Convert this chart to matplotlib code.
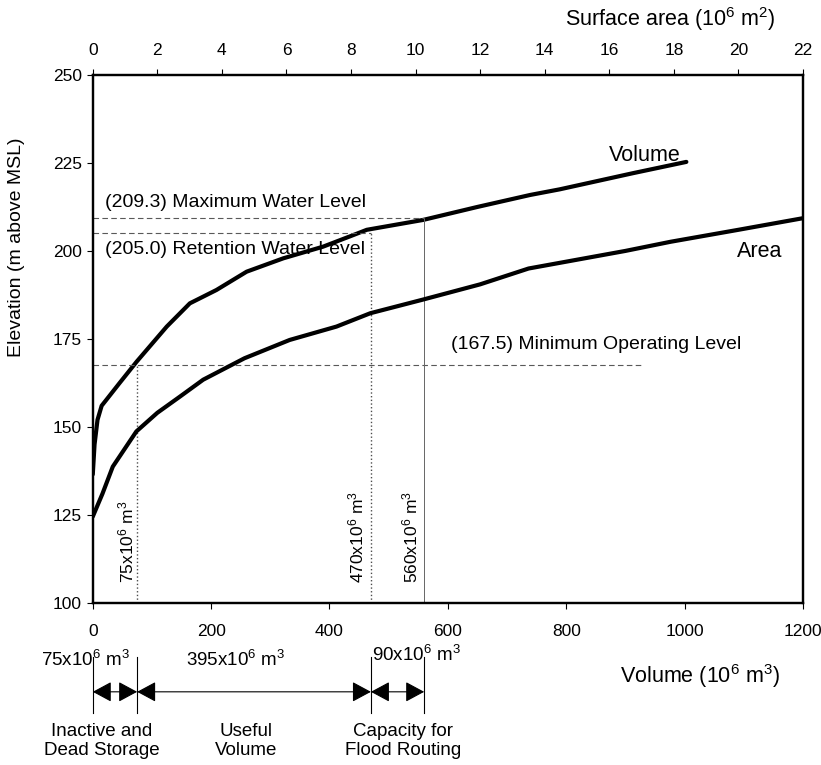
import numpy as np
import matplotlib.pyplot as plt
import matplotlib.transforms as mtransforms

plt.rcParams['font.family'] = ['Liberation Sans', 'DejaVu Sans']
plt.rcParams['mathtext.fontset'] = 'custom'
plt.rcParams['mathtext.rm'] = 'Liberation Sans'
plt.rcParams['mathtext.it'] = 'Liberation Sans:italic'

# elevation-volume curve (10^6 m3, m above MSL)
volume = [0, 3, 8, 15, 23, 45, 74, 125, 164, 209, 260, 322, 389, 434, 463,
          558, 650, 739, 789, 913, 1003]
volume_elev = [136.5, 145, 152, 156, 157.7, 162.4, 168.5, 178.5, 185.1, 188.9,
               194.1, 197.9, 201.2, 204.1, 206, 208.8, 212.5, 215.9, 217.5,
               222.1, 225.3]

# elevation-area curve (10^6 m2)
area = [0, 0.3, 0.62, 1.35, 2.0, 2.7, 3.42, 4.7, 6.1, 7.55, 8.6, 10.2, 12.0,
        13.5, 15.0, 16.5, 17.9, 20.0, 22.0]
area_elev = [124.5, 131, 138.7, 148.7, 154, 158.6, 163.4, 169.5, 174.7, 178.5,
             182.3, 186.1, 190.5, 195, 197.5, 200, 202.6, 206, 209.3]

# operating levels
levels = [209.3, 205.0, 167.5]
level_names = ['Maximum Water Level', 'Retention Water Level',
               'Minimum Operating Level']
level_volume = [560, 470, 75]

# storage split
storage_marks = [0, 75, 470, 560]
storage_sizes = [75, 395, 90]
storage_names = ['Inactive and\nDead Storage', 'Useful\nVolume',
                 'Capacity for\nFlood Routing']

fig = plt.figure(figsize=(8.21, 7.65), dpi=100)
ax = fig.add_axes([0.113, 0.212, 0.865, 0.690])
ax2 = ax.twiny()

ax.plot(volume, volume_elev, color='black', lw=3, solid_capstyle='round')
ax2.plot(area, area_elev, color='black', lw=3, solid_capstyle='round')

ax.set_xlim(0, 1200)
ax.set_ylim(100, 250)
ax2.set_xlim(0, 22)
ax.set_xticks([0, 200, 400, 600, 800, 1000, 1200])
ax.set_yticks([100, 125, 150, 175, 200, 225, 250])
ax2.set_xticks(range(0, 23, 2))

for a in (ax, ax2):
    for s in a.spines.values():
        s.set_linewidth(1.6)
ax.tick_params(axis='x', direction='out', length=4, width=0.8, pad=11, labelsize=12.5)
ax.tick_params(axis='y', direction='out', length=4, width=0.8, pad=4, labelsize=12.5)
ax2.tick_params(axis='x', direction='out', length=4, width=0.8, pad=8, labelsize=12.5)

ax.set_ylabel('Elevation (m above MSL)', fontsize=14)
ax.yaxis.set_label_coords(-0.095, 0.674)
ax2.set_xlabel('Surface area (10$^6$ m$^2$)', fontsize=15.5)
ax2.xaxis.set_label_coords(0.813, 1.093)

# level lines and labels
dash = (0, (5, 3))
ax.hlines(levels[0], 0, level_volume[0], colors='0.35', linestyles=[dash], lw=0.8)
ax.hlines(levels[1], 0, level_volume[1], colors='0.35', linestyles=[dash], lw=0.8)
ax.hlines(levels[2], 0, 930, colors='0.35', linestyles=[dash], lw=0.8)
ax.vlines(level_volume[2], 100, levels[2], colors='0.3', linestyles=':', lw=1)
ax.vlines(level_volume[1], 100, levels[1], colors='0.3', linestyles=':', lw=1)
ax.vlines(level_volume[0], 100, levels[0], colors='0.4', lw=0.7)

ax.text(20, 213.8, f'({levels[0]:.1f}) {level_names[0]}', fontsize=14, va='center')
ax.text(20, 200.3, f'({levels[1]:.1f}) {level_names[1]}', fontsize=14, va='center')
ax.text(606, 173.3, f'({levels[2]:.1f}) {level_names[2]}', fontsize=14, va='center')

ax.text(933, 227, 'Volume', fontsize=15.5, ha='center', va='center')
ax.text(1127, 199.8, 'Area', fontsize=15.5, ha='center', va='center')

rot_x = {75: 57, 470: 446, 560: 536}
for v in level_volume:
    ax.text(rot_x[v], 105.5, f'{v}x10$^6$ m$^3$', fontsize=12.5, rotation=90,
            ha='center', va='bottom')

# storage breakdown under the axis
trans = mtransforms.blended_transform_factory(ax.transData, ax.transAxes)
for m in storage_marks:
    ax.plot([m, m], [-0.103, -0.208], transform=trans, color='black', lw=0.8,
            clip_on=False)
for i in range(len(storage_sizes)):
    ax.annotate('', xy=(storage_marks[i + 1], -0.1686), xycoords=trans,
                xytext=(storage_marks[i], -0.1686), textcoords=trans,
                arrowprops=dict(arrowstyle='<|-|>,head_length=0.65,head_width=0.35',
                                color='black', lw=0.8,
                                mutation_scale=18, shrinkA=0, shrinkB=0))

size_x = [-13, 242, 546]
size_y = [-0.108, -0.108, -0.098]
for s, xs, ys in zip(storage_sizes, size_x, size_y):
    ax.text(xs, ys, f'{s}x10$^6$ m$^3$', transform=trans, fontsize=13.5,
            ha='center', va='center')

name_x = [15, 259, 524]
for n, xn in zip(storage_names, name_x):
    ax.text(xn, -0.261, n, transform=trans, fontsize=13.5, ha='center',
            va='center', linespacing=1.15)

ax.text(1026, -0.138, 'Volume (10$^6$ m$^3$)', transform=trans, fontsize=15.5,
        ha='center', va='center')

fig.savefig('out.png', dpi=100)
